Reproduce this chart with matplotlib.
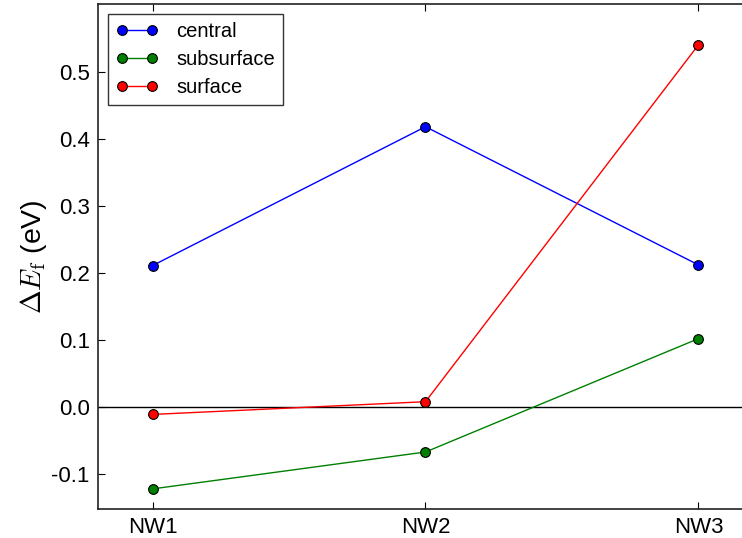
import matplotlib
matplotlib.use("Agg")
import matplotlib.pyplot as plt

labels = ["NW1", "NW2", "NW3"]
central = [0.211, 0.418, 0.212]
subsurface = [-0.122, -0.067, 0.102]
surface = [-0.011, 0.008, 0.540]

plt.rcParams["font.family"] = ["Liberation Sans", "DejaVu Sans"]
plt.rcParams["mathtext.fontset"] = "cm"

fig = plt.figure(figsize=(7.42, 5.38), dpi=100)
ax = fig.add_axes([98 / 742, 1 - 509 / 538, 655 / 742, 505 / 538])

x = range(len(labels))
ax.axhline(0, color="black", lw=1, zorder=1)
for vals, col, name in [(central, "b", "central"),
                        (subsurface, "g", "subsurface"),
                        (surface, "r", "surface")]:
    ax.plot(x, vals, color=col, lw=1, marker="o", markersize=7,
            markeredgecolor="black", markeredgewidth=0.8, label=name, zorder=3)

ax.set_xlim(-0.2, 2.2)
ax.set_ylim(-0.152, 0.601)
ax.set_xticks(list(x))
ax.set_xticklabels(labels)
ax.set_yticks([-0.1, 0.0, 0.1, 0.2, 0.3, 0.4, 0.5])
ax.set_yticklabels(["-0.1", "0.0", "0.1", "0.2", "0.3", "0.4", "0.5"])
ax.tick_params(direction="in", top=True, right=True, labelsize=16,
               length=5, width=0.8, pad=6)
for s in ax.spines.values():
    s.set_color("#222222")
    s.set_linewidth(1.2)
ax.set_ylabel(r"$\Delta E_{\rm f}$ (eV)", fontsize=20.5, labelpad=2)

leg = ax.legend(loc="upper left", numpoints=2, fontsize=14.5, fancybox=False,
                borderaxespad=0.5, handlelength=2.1, handletextpad=0.9,
                labelspacing=0.45)
leg.get_frame().set_edgecolor("black")
leg.get_frame().set_linewidth(1)

fig.savefig("out.png", dpi=100)
